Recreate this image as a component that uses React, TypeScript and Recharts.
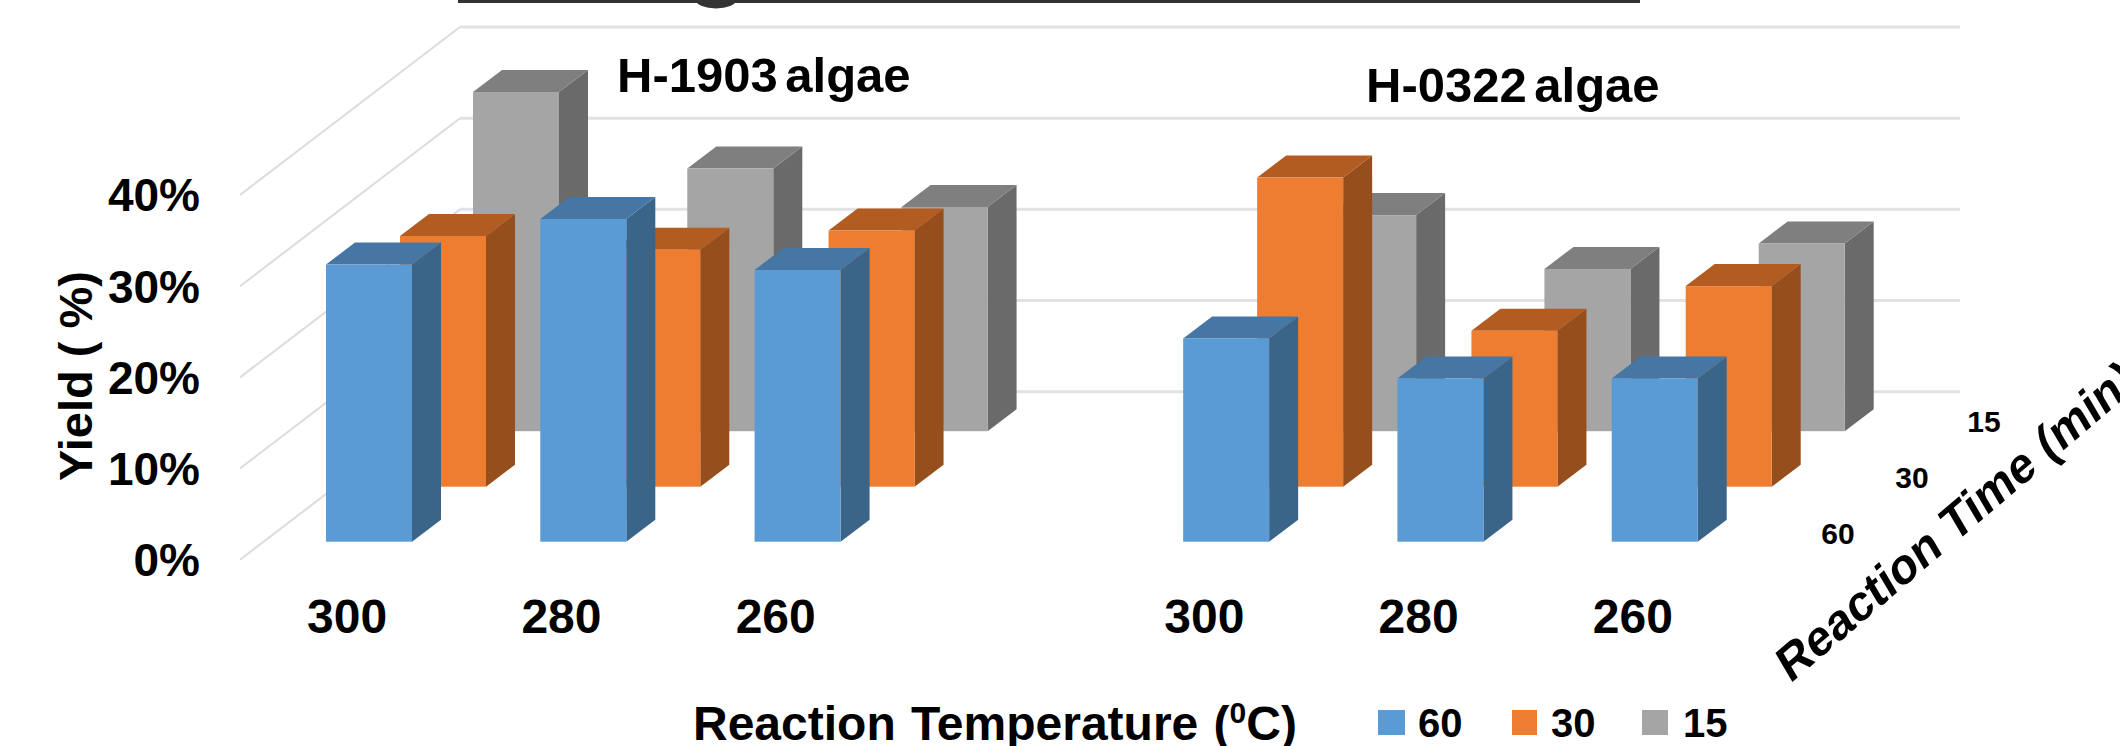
import React from "react";
import { ComposedChart, Bar, XAxis, YAxis, CartesianGrid, Legend } from "recharts";

const temperatures = ["300", "280", "260", "", "300", "280", "260"];
const time60 = [30.4, 35.4, 29.8, null, 22.3, 17.9, 17.9];
const time30 = [27.5, 26.0, 28.1, null, 33.9, 17.1, 22.0];
const time15 = [37.2, 28.8, 24.6, null, 23.7, 17.8, 20.6];
const yTicks = [0, 10, 20, 30, 40];

const table = temperatures.map((temp, i) => ({
  temp,
  t60: time60[i],
  t30: time30[i],
  t15: time15[i],
}));

const FONT = "'Liberation Sans', Arial, sans-serif";
const W = 2120;
const H = 746;
const DEPTH_DX = 29;
const DEPTH_DY = 22;

const seriesStyle = {
  t60: { name: "60", front: "#5B9BD5", top: "#4676A3", side: "#3A6488", dx: 22, dy: -18 },
  t30: { name: "30", front: "#ED7D31", top: "#B35C22", side: "#964F1C", dx: 96, dy: -73 },
  t15: { name: "15", front: "#A5A5A5", top: "#7F7F7F", side: "#6A6A6A", dx: 169, dy: -128.5 },
};
const legendOrder = ["t60", "t30", "t15"];

function cuboid(key: string) {
  const s = seriesStyle[key];
  return (props: any) => {
    const { x, y, width, height } = props;
    if (!height || height <= 0) return <g />;
    const l = x + s.dx;
    const r = l + width;
    const t = y + s.dy;
    const b = t + height;
    return (
      <g>
        <polygon points={`${r},${t} ${r + DEPTH_DX},${t - DEPTH_DY} ${r + DEPTH_DX},${b - DEPTH_DY} ${r},${b}`} fill={s.side} />
        <polygon points={`${l},${t} ${l + DEPTH_DX},${t - DEPTH_DY} ${r + DEPTH_DX},${t - DEPTH_DY} ${r},${t}`} fill={s.top} />
        <rect x={l} y={t} width={width} height={height} fill={s.front} />
      </g>
    );
  };
}

const wallLine = (props: any) => {
  const { x1, y1, x2 } = props;
  return (
    <g key={`wall-${y1}`} fill="none">
      <line x1={x1} y1={y1} x2={x1 + 220} y2={y1 - 168} stroke="#DCDCDC" strokeWidth={2} />
      <line x1={x1 + 220} y1={y1 - 168} x2={x2 + 220} y2={y1 - 168} stroke="#E2E2E2" strokeWidth={3} />
    </g>
  );
};

const LegendContent = () => (
  <div style={{ position: "relative", width: 380, height: 46, fontFamily: FONT, fontWeight: 700, fontSize: 40, color: "#000" }}>
    {legendOrder.map((k, i) => (
      <React.Fragment key={k}>
        <div style={{ position: "absolute", left: [0, 134, 264][i], top: 10, width: [27, 25, 26][i], height: 25, background: seriesStyle[k].front }} />
        <div style={{ position: "absolute", left: [40, 173, 305][i], top: 0, lineHeight: "46px" }}>{seriesStyle[k].name}</div>
      </React.Fragment>
    ))}
  </div>
);

const depthLabels = [
  { text: "60", x: 1838, y: 544 },
  { text: "30", x: 1912, y: 488 },
  { text: "15", x: 1984, y: 432 },
];

export default function App() {
  return (
    <div style={{ position: "absolute", left: 0, top: 0, width: W, height: H, background: "#fff", overflow: "hidden" }}>
      <ComposedChart
        width={W}
        height={H}
        data={table}
        margin={{ top: 195, right: 380, bottom: 106.3, left: 140 }}
        barCategoryGap={0}
      >
        <CartesianGrid xAxisId="front" vertical={false} horizontal={wallLine} syncWithTicks />
        <XAxis
          xAxisId="front"
          dataKey="temp"
          height={80}
          interval={0}
          axisLine={false}
          tickLine={false}
          tickSize={0}
          tickMargin={9}
          tick={{ fontFamily: FONT, fontWeight: 700, fontSize: 48, fill: "#000" }}
        />
        <XAxis xAxisId="mid" dataKey="temp" hide />
        <XAxis xAxisId="back" dataKey="temp" hide />
        <YAxis
          domain={[0, 40]}
          ticks={yTicks}
          width={100}
          axisLine={false}
          tickLine={false}
          tickSize={0}
          tickMargin={40}
          tickFormatter={(v: number) => `${v}%`}
          tick={{ fontFamily: FONT, fontWeight: 700, fontSize: 46, fill: "#000" }}
        />
        <Bar xAxisId="back" dataKey="t15" name="15" barSize={86} isAnimationActive={false} shape={cuboid("t15")} />
        <Bar xAxisId="mid" dataKey="t30" name="30" barSize={86} isAnimationActive={false} shape={cuboid("t30")} />
        <Bar xAxisId="front" dataKey="t60" name="60" barSize={86} isAnimationActive={false} shape={cuboid("t60")} />
        <Legend
          layout="horizontal"
          verticalAlign="middle"
          align="center"
          content={LegendContent}
          wrapperStyle={{ left: 1378, top: 700, width: 380, height: 46, margin: 0 }}
        />
        <g fontFamily={FONT} fontWeight={700} fill="#000">
          <rect x={458} y={0} width={1182} height={3} fill="#333" />
          <ellipse cx={716} cy={0} rx={20} ry={8.5} fill="#333" />
          <text x={617} y={92} fontSize={49} wordSpacing={-6}>H-1903 algae</text>
          <text x={1366} y={102} fontSize={49} wordSpacing={-6}>H-0322 algae</text>
          <text transform="translate(92,376) rotate(-90)" textAnchor="middle" fontSize={47}>Yield ( %)</text>
          <text x={693} y={740} fontSize={48} wordSpacing={2}>
            Reaction Temperature (<tspan fontSize={30} dy={-17}>0</tspan><tspan dy={17}>C)</tspan>
          </text>
          {depthLabels.map((d) => (
            <text key={d.text} x={d.x} y={d.y} fontSize={30} textAnchor="middle">{d.text}</text>
          ))}
          <text transform="translate(1790,684) rotate(-40.5) skewX(-10)" fontSize={48}>Reaction Time (min)</text>
        </g>
      </ComposedChart>
    </div>
  );
}
